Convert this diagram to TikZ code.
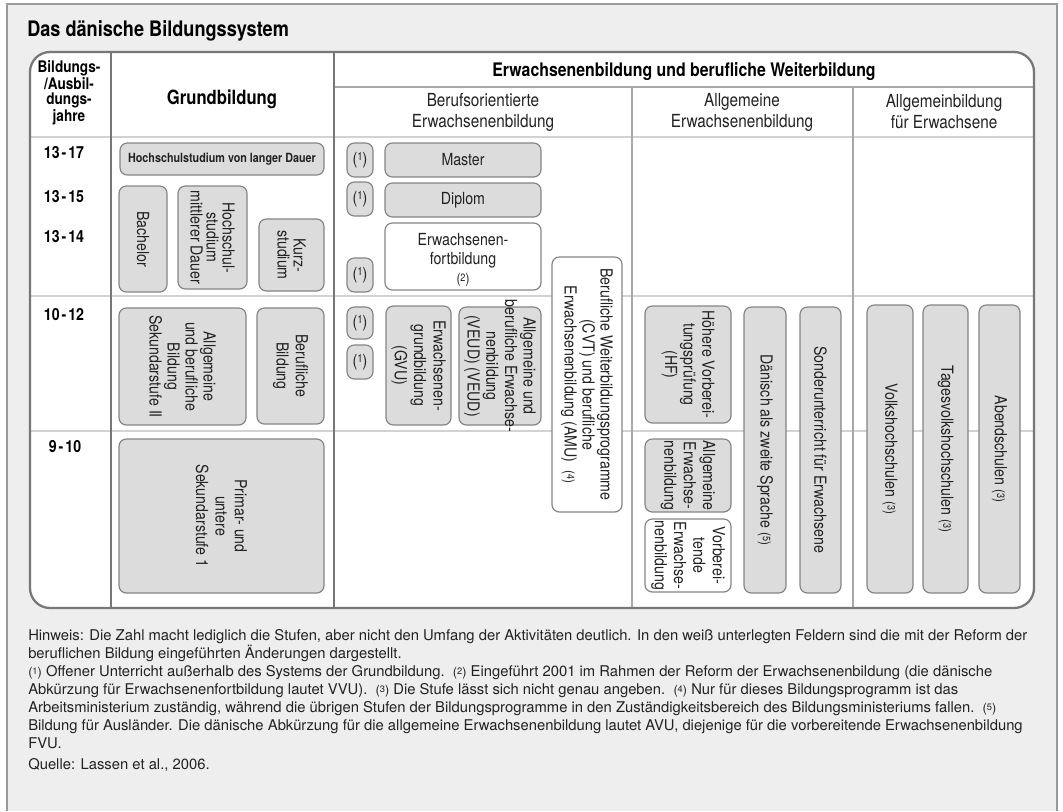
\documentclass[tikz,border=0pt]{standalone}
\usepackage{fontspec}
\setmainfont{TeX Gyre Heros}[FakeStretch=0.85]
\newfontfamily\notefont{TeX Gyre Heros}
\newcommand{\fsz}[2]{\fontsize{#1}{#2}\selectfont}
\newcommand{\fbx}[1]{(\raisebox{0.45ex}{\fsz{8.5}{8.5}#1})}
\newcommand{\fnb}[1]{{\fsz{10.5}{10.5}(\raisebox{0.3ex}{\fsz{8}{8}#1})}}
\newcommand{\fnt}[1]{{\fsz{9.5}{9.5}(\raisebox{0.3ex}{\fsz{7}{7}#1})}}
\definecolor{panel}{HTML}{EEEEEE}
\definecolor{pframe}{HTML}{9A9A9A}
\definecolor{tline}{HTML}{777777}
\definecolor{boxline}{HTML}{858585}
\definecolor{boxfill}{HTML}{DCDCDD}
\definecolor{grid}{HTML}{D2D2D2}
\definecolor{subdiv}{HTML}{A8A8A8}
\definecolor{txt}{HTML}{222222}
\newcommand{\drawrbox}[8]{%
  \draw[#1] (#4,#5) rectangle (#6,#7);
  \node[lbl,rotate=-90,#2] (#3) at ({(#4+#6)/2},{(#5+#7)/2}) {#8};}
\newcommand{\drawhbox}[8]{%
  \draw[#1] (#4,#5) rectangle (#6,#7);
  \node[lbl,#2] (#3) at ({(#4+#6)/2},{(#5+#7)/2}) {#8};}
\begin{document}
\begin{tikzpicture}[x=0.75pt,y=-0.75pt,
  gbox/.style={draw=boxline,fill=boxfill,line width=0.9pt,rounded corners=5.5pt},
  wbox/.style={gbox,fill=white},
  lbl/.style={align=center,inner sep=0pt,text=txt,font=\fsz{12.5}{14}},
  hdr/.style={align=center,inner sep=0pt,text=black,font=\bfseries\fsz{14}{16}},
  sub/.style={align=center,inner sep=0pt,text=txt,font=\fsz{13.5}{15.75}},
  yr/.style={inner sep=0pt,text=black,font=\bfseries\fsz{12.5}{14}},
  note/.style={anchor=base west,inner sep=0pt,text=txt,font=\notefont\fsz{11.1}{13}}]
\useasboundingbox (0,0) rectangle (1063,811);
% panel
\fill[panel] (7,4) rectangle (1057,811);
\draw[pframe,line width=0.9pt] (7,811) -- (7,4) -- (1057,4) -- (1057,811);
\node[anchor=base west,inner sep=0pt,text=black,font=\bfseries\fsz{16}{18}] (title) at (27,36) {Das dänische Bildungssystem};
% table body
\fill[white,rounded corners=15pt] (30,52) rectangle (1034,608);
\draw[grid,line width=0.8pt] (30,137) -- (1034,137);
\draw[grid,line width=0.8pt] (30,296) -- (1034,296);
\draw[grid,line width=0.8pt] (30,431) -- (1034,431);
\draw[subdiv,line width=0.8pt] (334,87) -- (1034,87);
\draw[subdiv,line width=0.8pt] (632,87) -- (632,608);
\draw[subdiv,line width=0.8pt] (853,87) -- (853,608);
\draw[tline,line width=1.3pt] (111,52) -- (111,608);
\draw[tline,line width=1.3pt] (334,52) -- (334,608);
\draw[tline,line width=1.7pt,rounded corners=15pt] (30,52) rectangle (1034,608);
% headers
\node[yr,align=center,font=\bfseries\fsz{12}{11.25}] (yh) at (69,93) {Bildungs-\\/Ausbil-\\dungs-\\jahre};
\node[hdr,font=\bfseries\fsz{14.7}{16}] (gb) at (222,99) {Grundbildung};
\node[hdr] (eb) at (684,72) {Erwachsenenbildung und berufliche Weiterbildung};
\node[sub] (s1) at (483,112) {Berufsorientierte\\Erwachsenenbildung};
\node[sub] (s2) at (742,112) {Allgemeine\\Erwachsenenbildung};
\node[sub] (s3) at (944,112) {Allgemeinbildung\\für Erwachsene};
% year labels
\node[yr] (y1) at (64,153) {13\kern1.5pt-\kern1.5pt17};
\node[yr] (y2) at (64,197) {13\kern1.5pt-\kern1.5pt15};
\node[yr] (y3) at (64,237) {13\kern1.5pt-\kern1.5pt14};
\node[yr] (y4) at (64,315) {10\kern1.5pt-\kern1.5pt12};
\node[yr] (y5) at (65,447) {9\kern1.5pt-\kern1.5pt10};
% Grundbildung column
\drawhbox{gbox}{font=\bfseries\fsz{9.5}{11}}{hlang}{120}{143}{324}{175}{Hochschulstudium von langer Dauer}
\drawrbox{gbox}{}{bach}{119}{186}{167}{292}{Bachelor}
\drawrbox{gbox}{font=\fsz{12.5}{12}}{hmd}{178}{186}{247}{289}{Hochschul-\\studium\\mittlerer Dauer}
\drawrbox{gbox}{font=\fsz{12.5}{12}}{kurz}{259}{219}{324}{291}{Kurz-\\studium}
\drawrbox{gbox}{font=\fsz{12.5}{13.5}}{sek}{119}{308}{246}{425}{Allgemeine\\und berufliche\\Bildung\\Sekundarstufe II}
\drawrbox{gbox}{font=\fsz{12.5}{14.5}}{berb}{257}{308}{324}{424}{Berufliche\\Bildung}
\drawrbox{gbox}{font=\fsz{12.5}{14.5}}{prim}{119}{439}{324}{593}{Primar- und\\untere\\Sekundarstufe 1}
% Berufsorientierte column
\drawhbox{gbox}{}{f1}{347}{143}{373}{177}{\fbx{1}}
\drawhbox{gbox}{}{f2}{347}{182}{373}{216}{\fbx{1}}
\drawhbox{gbox}{}{f3}{347}{258}{373}{292}{\fbx{1}}
\drawhbox{gbox}{}{f4}{347}{307}{373}{339}{\fbx{1}}
\drawhbox{gbox}{}{f5}{347}{345}{373}{379}{\fbx{1}}
\drawhbox{gbox}{}{master}{385}{143}{541}{177}{Master}
\drawhbox{gbox}{}{diplom}{385}{183}{541}{217}{Diplom}
\draw[wbox] (385,223) rectangle (541,290);
\node[lbl,font=\fsz{12.5}{14.5}] (efort) at (463,260) {Erwachsenen-\\fortbildung\\\fnb{2}};
\drawrbox{wbox}{font=\fsz{12.5}{13.5}}{cvt}{552}{257}{622}{512}{Berufliche Weiterbildungsprogramme\\(CVT) und berufliche\\Erwachsenenbildung (AMU)\ \ \fnb{4}}
\drawrbox{gbox}{font=\fsz{12.5}{14.5}}{gvu}{386}{306}{451}{425}{Erwachsenen-\\grundbildung\\(GVU)}
\drawrbox{gbox}{font=\fsz{12.5}{14}}{veud}{459}{307}{541}{425}{Allgemeine und\\berufliche Erwachse-\\nenbildung\\(VEUD) (VEUD)}
% Allgemeine Erwachsenenbildung column
\drawrbox{gbox}{font=\fsz{12.5}{14}}{hf}{645}{306}{731}{423}{Höhere Vorberei-\\tungsprüfung\\(HF)}
\drawrbox{gbox}{font=\fsz{12.5}{14.5}}{aeb}{645}{439}{731}{512}{Allgemeine\\Erwachse-\\nenbildung}
\drawrbox{wbox}{font=\fsz{12.5}{14.5}}{vor}{645}{519}{731}{592}{Vorberei-\\tende\\Erwachse-\\nenbildung}
\drawrbox{gbox}{}{dan}{744}{307}{786}{593}{Dänisch als zweite Sprache \fnb{5}}
\drawrbox{gbox}{}{sond}{800}{307}{841}{593}{Sonderunterricht für Erwachsene}
% Allgemeinbildung fuer Erwachsene column
\drawrbox{gbox}{}{volk}{867}{305}{913}{593}{Volkshochschulen \fnb{3}}
\drawrbox{gbox}{}{tag}{923}{305}{968}{593}{Tagesvolkshochschulen \fnb{3}}
\drawrbox{gbox}{}{abend}{979}{305}{1020}{593}{Abendschulen \fnb{3}}
% notes
\node[note] (n1) at (28,640) {Hinweis: Die Zahl macht lediglich die Stufen, aber nicht den Umfang der Aktivitäten deutlich. In den weiß unterlegten Feldern sind die mit der Reform der};
\node[note] (n2) at (28,658) {beruflichen Bildung eingeführten Änderungen dargestellt.};
\node[note] (n3) at (28,676) {\fnt{1} Offener Unterricht außerhalb des Systems der Grundbildung.\ \ \fnt{2} Eingeführt 2001 im Rahmen der Reform der Erwachsenenbildung (die dänische};
\node[note] (n4) at (28,694) {Abkürzung für Erwachsenenfortbildung lautet VVU).\ \ \fnt{3} Die Stufe lässt sich nicht genau angeben.\ \ \fnt{4} Nur für dieses Bildungsprogramm ist das};
\node[note] (n5) at (28,712) {Arbeitsministerium zuständig, während die übrigen Stufen der Bildungsprogramme in den Zuständigkeitsbereich des Bildungsministeriums fallen.\ \ \fnt{5}};
\node[note] (n6) at (28,730) {Bildung für Ausländer. Die dänische Abkürzung für die allgemeine Erwachsenenbildung lautet AVU, diejenige für die vorbereitende Erwachsenenbildung};
\node[note] (n7) at (28,748) {FVU.};
\node[note] (n8) at (28,769) {Quelle: Lassen et al., 2006.};
\end{tikzpicture}
\end{document}
